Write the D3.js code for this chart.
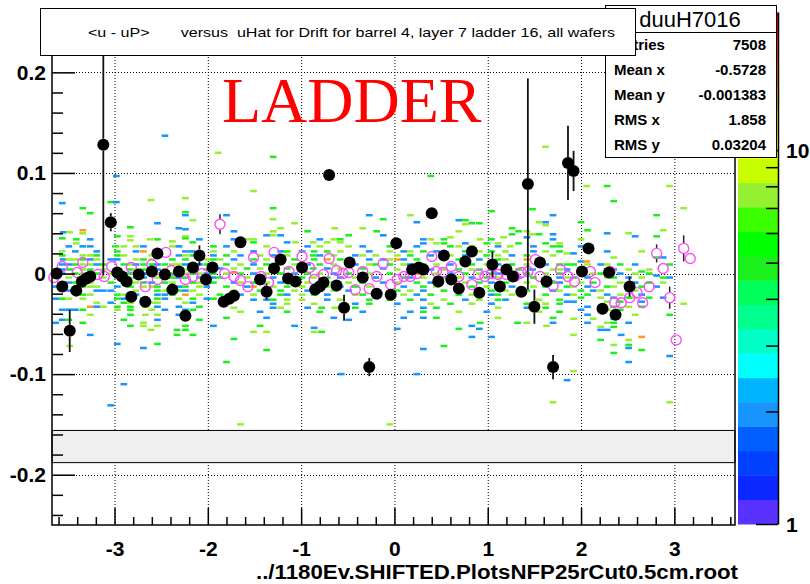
<!DOCTYPE html>
<html>
<head>
<meta charset="utf-8">
<script src="https://cdn.jsdelivr.net/npm/d3@7"></script>
<style>
  body { margin: 0; background: #fff; }
  svg { display: block; }
</style>
</head>
<body>
<script>
// ---- values ----
const xRange = [-3.67, 3.65];
const yRange = [-0.25, 0.26];
const zRange = [1, 23.4];

const xTicks = [-3, -2, -1, 0, 1, 2, 3];
const xTickLabels = ["-3", "-2", "-1", "0", "1", "2", "3"];
const yTicks = [-0.2, -0.1, 0, 0.1, 0.2];
const yTickLabels = ["-0.2", "-0.1", "0", "0.1", "0.2"];
const zTicks = [1, 2, 3, 4, 5, 6, 7, 8, 9, 10];
const zTickLabels = ["1", "", "", "", "", "", "", "", "", "10"];

const paletteColors = [
  "#5a32ff", "#0a28ff", "#0040ff", "#0060ff", "#1894ff", "#00b4ff", "#00ffff",
  "#00ffc8", "#00ff8c", "#00ff5a", "#1cf01c", "#00ff00", "#3cff00", "#96f032",
  "#c8ff00", "#ffff00", "#ffd200", "#ff9a1a", "#ff6400", "#ff3200", "#ff0000"
];

// profile of <u - uP> (black full markers)
const profX = [-3.62,-3.56,-3.48,-3.41,-3.35,-3.30,-3.26,-3.12,-3.04,-2.97,-2.92,-2.87,-2.82,-2.74,-2.67,-2.60,-2.54,-2.46,-2.38,-2.31,-2.24,-2.16,-2.09,-2.02,-1.95,-1.83,-1.77,-1.72,-1.65,-1.44,-1.37,-1.29,-1.22,-1.14,-1.06,-0.99,-0.85,-0.80,-0.76,-0.70,-0.62,-0.54,-0.48,-0.34,-0.27,-0.19,-0.04,0.02,0.19,0.26,0.31,0.40,0.47,0.53,0.61,0.69,0.76,0.83,0.91,1.05,1.13,1.20,1.27,1.36,1.43,1.50,1.56,1.63,1.70,1.86,1.92,2.01,2.08,2.23,2.30,2.37,2.52];
const profY = [0.000,-0.013,-0.057,-0.017,-0.008,-0.005,-0.003,0.128,0.051,0.001,-0.003,-0.008,-0.023,-0.001,-0.028,0.002,0.020,-0.001,-0.016,0.002,-0.042,0.006,0.018,-0.006,0.006,-0.028,-0.025,-0.022,0.031,-0.006,-0.018,0.005,0.014,-0.005,-0.008,0.006,-0.016,-0.013,-0.009,0.098,-0.012,-0.034,0.011,-0.004,-0.093,-0.020,-0.021,0.030,0.004,0.006,0.004,0.060,-0.008,0.018,-0.006,-0.015,0.012,0.022,-0.019,0.009,-0.013,0.004,-0.003,-0.018,0.089,-0.033,0.011,-0.008,-0.093,0.110,0.102,0.002,0.025,-0.035,0.001,-0.041,-0.013];
const profErr = [0.004,0.004,0.021,0.005,0.004,0.004,0.004,0.13,0.009,0.004,0.004,0.004,0.004,0.004,0.004,0.004,0.004,0.004,0.004,0.004,0.004,0.004,0.01,0.004,0.004,0.004,0.004,0.004,0.004,0.004,0.008,0.004,0.004,0.004,0.004,0.004,0.006,0.004,0.004,0.004,0.004,0.013,0.004,0.004,0.009,0.004,0.004,0.004,0.004,0.004,0.004,0.004,0.004,0.004,0.004,0.004,0.004,0.004,0.004,0.013,0.004,0.004,0.004,0.004,0.105,0.017,0.004,0.004,0.012,0.037,0.02,0.004,0.004,0.004,0.004,0.004,0.01];

// second profile (magenta open markers)
const magX = [-3.65,-3.56,-3.40,-3.34,-3.18,-3.11,-3.03,-2.82,-2.67,-2.60,-2.54,-2.45,-2.39,-2.24,-2.16,-2.06,-1.87,-1.82,-1.72,-1.65,-1.57,-1.51,-1.43,-1.35,-1.29,-1.13,-0.99,-0.91,-0.86,-0.76,-0.70,-0.62,-0.55,-0.49,-0.42,-0.34,-0.27,-0.19,-0.12,-0.04,0.03,0.10,0.17,0.24,0.40,0.45,0.52,0.61,0.69,0.83,0.90,0.97,1.04,1.11,1.20,1.29,1.36,1.43,1.51,1.56,1.70,1.78,1.86,1.93,2.10,2.15,2.31,2.36,2.43,2.52,2.60,2.66,2.73,2.81,2.88,2.95,3.02,3.10,3.17];
const magY = [-0.004,0.007,0.001,0.011,-0.001,-0.003,0.007,0.006,-0.013,0.009,-0.006,0.021,0.003,-0.006,-0.003,0.000,0.049,0.000,-0.003,-0.007,-0.013,0.016,-0.003,-0.009,0.021,0.002,0.017,0.006,-0.006,-0.001,0.015,0.003,0.000,0.001,-0.016,0.002,-0.015,-0.003,0.010,-0.011,-0.006,-0.003,-0.003,0.000,0.017,0.002,0.001,0.007,-0.003,-0.011,-0.001,-0.003,0.000,-0.001,-0.001,-0.003,0.001,0.002,0.014,-0.003,-0.012,0.004,-0.003,-0.008,0.002,-0.009,0.002,-0.029,-0.029,-0.024,-0.019,-0.029,-0.013,0.020,0.005,-0.024,-0.066,0.025,0.015];
const magErr = [0.003,0.003,0.003,0.003,0.003,0.003,0.003,0.003,0.003,0.003,0.003,0.003,0.003,0.003,0.003,0.003,0.010,0.003,0.003,0.003,0.003,0.003,0.003,0.003,0.003,0.003,0.003,0.003,0.003,0.003,0.003,0.003,0.003,0.003,0.003,0.003,0.003,0.003,0.003,0.003,0.003,0.003,0.003,0.003,0.003,0.003,0.003,0.003,0.003,0.003,0.003,0.003,0.003,0.003,0.003,0.003,0.003,0.003,0.003,0.003,0.003,0.003,0.003,0.003,0.003,0.003,0.003,0.003,0.003,0.003,0.003,0.003,0.003,0.009,0.003,0.011,0.003,0.013,0.003];

// 2D histogram cells: [uHat, u - uP, entries]
const cells2d = [
  [-2.46,0.137,2],[-1.89,0.120,8],[-2.98,0.097,2],[-2.24,0.075,8],[-2.61,0.073,8],[-3.04,0.071,5],[-2.98,0.071,2],[-3.56,0.070,2],[-3.34,0.065,5],[-2.24,0.061,5],[-2.24,0.058,2],[-3.26,0.060,5],[-2.16,0.053,8],[-2.54,0.050,2],[-2.83,0.046,5],[-2.31,0.045,2],[-2.24,0.044,2],[-3.34,0.043,13],
  [-3.55,0.041,2],[-3.48,0.041,8],[-3.34,0.040,8],[-2.97,0.037,5],[-2.83,0.037,8],[-2.24,0.037,8],[-2.24,0.035,5],[-3.56,0.035,5],[-3.41,0.034,5],[-3.41,0.030,8],[-3.26,0.034,2],[-2.62,0.034,8],[-2.54,0.034,5],[-2.09,0.034,2],[-2.83,0.033,8],[-2.38,0.032,8],[-2.16,0.031,5],
  [-3.49,0.027,2],[-3.34,0.027,2],[-3.26,0.027,2],[-2.99,0.027,5],[-2.90,0.027,8],[-2.77,0.027,8],[-2.69,0.027,2],[-2.38,0.027,8],[-2.31,0.027,2],[-1.94,0.027,5],
  [-3.56,0.022,8],[-3.42,0.022,2],[-3.19,0.022,2],[-2.97,0.022,5],[-2.77,0.022,2],[-2.69,0.022,13],[-2.24,0.022,2],[-2.17,0.022,2],[-1.94,0.022,8],
  [-3.56,0.018,5],[-3.34,0.018,8],[-3.26,0.018,8],[-3.19,0.018,5],[-2.97,0.018,5],[-2.90,0.018,8],[-2.60,0.018,8],[-2.31,0.018,2],[-2.24,0.018,8],[-2.16,0.018,5],[-1.94,0.018,2],
  [-3.55,0.014,2],[-3.49,0.014,8],[-3.42,0.014,8],[-3.34,0.014,5],[-3.26,0.014,2],[-3.19,0.014,8],[-3.04,0.014,2],[-2.97,0.014,2],[-2.77,0.014,8],[-2.69,0.014,5],[-2.60,0.014,8],[-2.38,0.014,5],[-2.24,0.014,5],[-2.09,0.014,8],[-2.01,0.014,8],[-1.94,0.014,5],
  [-3.56,0.009,2],[-3.49,0.009,2],[-3.42,0.009,5],[-3.34,0.009,8],[-3.26,0.009,8],[-3.19,0.009,2],[-3.12,0.009,5],[-2.90,0.009,5],[-2.83,0.009,8],[-2.77,0.009,2],[-2.69,0.009,5],[-2.60,0.009,5],[-2.54,0.009,2],[-2.46,0.009,5],[-2.38,0.009,8],[-2.31,0.009,8],[-2.24,0.009,2],[-2.16,0.009,8],[-2.09,0.009,2],[-2.01,0.009,5],[-1.94,0.009,5],
  [-3.63,0.004,8],[-3.56,0.004,2],[-3.48,0.004,5],[-3.34,0.004,8],[-3.26,0.004,5],[-3.12,0.004,8],[-2.97,0.004,5],[-2.83,0.004,5],[-2.77,0.004,8],[-2.69,0.004,5],[-2.54,0.004,2],[-2.46,0.004,8],[-2.31,0.004,5],[-2.24,0.004,8],[-2.16,0.004,2],[-2.01,0.004,5],
  [-3.56,0,2],[-3.42,0,5],[-3.34,0,8],[-3.26,0,2],[-3.19,0,5],[-3.04,0,8],[-2.90,0,2],[-2.83,0,5],[-2.77,0,8],[-2.69,0,2],[-2.60,0,5],[-2.54,0,8],[-2.46,0,2],[-2.38,0,5],[-2.24,0,8],[-2.16,0,5],[-2.09,0,8],[-2.01,0,2],[-1.94,0,5],
  [-3.63,-0.004,5],[-3.49,-0.004,8],[-3.34,-0.004,2],[-3.26,-0.004,5],[-3.12,-0.004,8],[-2.97,-0.004,5],[-2.77,-0.004,5],[-2.69,-0.004,2],[-2.54,-0.004,8],[-2.38,-0.004,5],[-2.31,-0.004,2],[-2.24,-0.004,5],[-2.09,-0.004,2],[-2.01,-0.004,8],[-1.94,-0.004,2],
  [-3.56,-0.009,8],[-3.49,-0.009,2],[-3.42,-0.009,5],[-3.26,-0.009,8],[-3.04,-0.009,5],[-2.90,-0.009,2],[-2.77,-0.009,8],[-2.69,-0.009,5],[-2.60,-0.009,2],[-2.46,-0.009,5],[-2.38,-0.009,8],[-2.16,-0.009,5],[-2.09,-0.009,8],[-1.94,-0.009,5],
  [-3.63,-0.013,2],[-3.34,-0.013,5],[-3.26,-0.013,8],[-3.19,-0.013,8],[-2.97,-0.013,2],[-2.83,-0.013,5],[-2.69,-0.013,8],[-2.60,-0.013,8],[-2.54,-0.013,5],[-2.31,-0.013,2],[-2.24,-0.013,5],[-2.09,-0.013,8],[-2.01,-0.013,2],
  [-3.56,-0.017,8],[-3.48,-0.017,2],[-3.41,-0.017,5],[-3.19,-0.017,2],[-3.12,-0.017,2],[-3.04,-0.017,2],[-2.77,-0.017,8],[-2.54,-0.017,5],[-2.46,-0.017,8],[-2.31,-0.017,5],[-2.24,-0.017,2],[-2.16,-0.017,8],
  [-3.34,-0.021,5],[-3.26,-0.021,8],[-2.97,-0.021,5],[-2.90,-0.021,8],[-2.77,-0.021,2],[-2.54,-0.021,2],[-2.46,-0.021,2],[-2.38,-0.021,5],[-2.24,-0.021,13],[-2.09,-0.021,8],
  [-3.63,-0.025,2],[-3.56,-0.025,5],[-3.49,-0.025,8],[-3.34,-0.025,8],[-2.97,-0.025,5],[-2.90,-0.025,2],[-2.69,-0.025,5],[-2.54,-0.025,5],[-2.46,-0.025,2],[-2.31,-0.025,8],[-2.16,-0.025,5],[-2.01,-0.025,2],[-1.94,-0.025,5],
  [-3.19,-0.029,8],[-3.04,-0.029,2],[-2.90,-0.029,5],[-2.83,-0.029,8],[-2.60,-0.029,8],[-2.54,-0.029,8],[-2.24,-0.029,8],[-2.16,-0.029,2],
  [-3.26,-0.033,13],[-3.19,-0.033,2],[-3.12,-0.033,8],[-2.97,-0.033,5],[-2.83,-0.033,5],[-2.67,-0.033,8],[-2.54,-0.033,2],[-2.31,-0.033,2],[-2.09,-0.033,5],
  [-3.56,-0.036,2],[-3.49,-0.036,2],[-3.42,-0.036,2],[-3.34,-0.036,5],[-2.97,-0.036,8],[-2.83,-0.036,5],[-2.60,-0.036,8],[-2.46,-0.036,2],[-2.24,-0.036,2],[-2.16,-0.036,5],
  [-3.26,-0.041,8],[-2.83,-0.041,5],[-2.67,-0.041,8],[-2.54,-0.041,8],[-2.31,-0.041,2],[-2.24,-0.041,2],
  [-3.56,-0.046,2],[-3.49,-0.046,5],[-2.90,-0.046,5],[-2.54,-0.046,2],[-2.24,-0.046,2],[-2.09,-0.046,5],
  [-3.63,-0.049,2],[-3.34,-0.049,5],[-2.69,-0.049,8],[-2.83,-0.052,5],[-2.69,-0.052,8],[-2.54,-0.052,8],[-2.24,-0.052,5],[-1.94,-0.052,2],
  [-2.61,-0.056,8],[-2.33,-0.056,5],[-2.24,-0.056,5],[-3.26,-0.061,2],[-2.33,-0.061,5],[-2.16,-0.061,5],
  [-2.97,-0.070,2],[-2.54,-0.070,5],[-3.48,-0.072,8],[-2.69,-0.074,2],[-2.90,-0.110,2],[-3.04,-0.131,2],

  [-1.30,0.116,5],[-1.51,0.082,8],[-1.30,0.065,5],[-1.80,0.058,2],[-0.27,0.058,2],[-1.30,0.054,8],[-0.12,0.054,5],[-1.07,0.050,8],[-1.22,0.045,8],[-0.64,0.045,8],[-0.34,0.045,8],[-1.72,0.042,2],[-1.30,0.042,8],[-0.19,0.042,5],[-0.93,0.042,5],[-1.22,0.038,2],[-1.37,0.038,2],[-1.30,0.038,8],[-0.49,0.038,5],[-0.12,0.038,2],
  [-1.51,0.034,8],[-0.80,0.034,2],[-0.58,0.034,5],[-0.65,0.034,8],[-1.58,0.034,8],[-1.72,0.034,2],
  [-1.15,0.031,2],[-1.06,0.031,8],[-0.87,0.031,8],[-0.72,0.031,8],[-0.58,0.031,8],[-1.51,0.031,5],
  [-1.80,0.027,2],[-1.65,0.027,5],[-1.37,0.027,8],[-0.93,0.027,2],[-0.80,0.027,8],[-0.49,0.027,8],[-0.34,0.027,2],[-0.05,0.027,5],
  [-1.72,0.022,8],[-1.51,0.022,2],[-1.22,0.022,2],[-1.15,0.022,5],[-0.99,0.022,2],[-0.86,0.022,5],[-0.72,0.022,5],[-0.58,0.022,8],[-0.27,0.022,2],[-0.05,0.022,8],
  [-1.80,0.018,5],[-1.65,0.018,2],[-1.44,0.018,8],[-1.30,0.018,2],[-1.15,0.018,8],[-0.87,0.018,5],[-0.80,0.018,2],[-0.65,0.018,8],[-0.42,0.018,2],[-0.34,0.018,8],[-0.20,0.018,8],
  [-1.87,0.014,8],[-1.72,0.014,2],[-1.51,0.014,5],[-1.37,0.014,8],[-1.07,0.014,5],[-0.86,0.014,5],[-0.72,0.014,13],[-0.58,0.014,5],[-0.27,0.014,2],[-0.12,0.014,2],[-0.05,0.014,8],
  [-1.80,0.009,5],[-1.65,0.009,8],[-1.51,0.009,2],[-1.37,0.009,5],[-1.22,0.009,8],[-1.07,0.009,8],[-0.93,0.009,2],[-0.80,0.009,5],[-0.65,0.009,8],[-0.49,0.009,5],[-0.42,0.009,2],[-0.27,0.009,8],[-0.20,0.009,5],[-0.05,0.009,5],
  [-1.87,0.005,2],[-1.72,0.005,8],[-1.58,0.005,5],[-1.44,0.005,8],[-1.30,0.005,2],[-1.15,0.005,5],[-0.99,0.005,8],[-0.87,0.005,5],[-0.72,0.005,2],[-0.58,0.005,8],[-0.34,0.005,5],[-0.12,0.005,2],
  [-1.72,0.001,13],[-1.80,0,8],[-1.65,0,5],[-1.51,0,2],[-1.37,0,8],[-1.22,0,5],[-1.07,0,2],[-0.93,0,5],[-0.80,0,8],[-0.65,0,2],[-0.49,0,5],[-0.27,0,8],[-0.05,0,5],
  [-1.87,-0.004,5],[-1.58,-0.004,8],[-1.44,-0.004,5],[-1.30,-0.004,2],[-1.15,-0.004,8],[-0.99,-0.004,5],[-0.87,-0.004,8],[-0.72,-0.004,5],[-0.58,-0.004,2],[-0.42,-0.004,8],[-0.20,-0.004,2],
  [-1.72,-0.009,2],[-1.65,-0.009,8],[-1.51,-0.009,5],[-1.37,-0.009,8],[-1.22,-0.009,2],[-1.07,-0.009,5],[-0.93,-0.009,8],[-0.80,-0.009,2],[-0.65,-0.009,5],[-0.49,-0.009,8],[-0.34,-0.009,5],[-0.12,-0.009,2],
  [-1.80,-0.013,5],[-1.58,-0.013,2],[-1.51,-0.013,13],[-1.30,-0.013,8],[-1.15,-0.013,5],[-0.99,-0.013,8],[-0.86,-0.013,5],[-0.72,-0.013,8],[-0.58,-0.013,2],[-0.42,-0.013,5],[-0.27,-0.013,8],
  [-1.72,-0.017,8],[-1.44,-0.017,5],[-1.37,-0.017,2],[-1.22,-0.017,5],[-1.07,-0.017,8],[-0.93,-0.017,2],[-0.80,-0.017,5],[-0.65,-0.017,8],[-0.49,-0.017,2],[-0.20,-0.017,5],
  [-1.87,-0.021,5],[-1.65,-0.021,2],[-1.51,-0.021,8],[-1.22,-0.021,5],[-1.15,-0.021,2],[-0.99,-0.021,8],[-0.86,-0.021,5],[-0.72,-0.021,2],[-0.42,-0.021,8],[-0.34,-0.021,5],
  [-1.51,-0.026,2],[-1.37,-0.026,2],[-1.30,-0.026,5],[-1.15,-0.026,8],[-0.99,-0.026,8],[-0.72,-0.026,2],[-0.58,-0.026,8],[-0.27,-0.026,5],[-0.05,-0.026,5],
  [-1.30,-0.030,2],[-1.15,-0.030,8],[-0.86,-0.030,8],[-0.42,-0.030,2],[-0.27,-0.030,5],
  [-1.72,-0.034,8],[-1.30,-0.034,2],[-1.22,-0.034,8],[-0.93,-0.034,2],[-0.78,-0.034,5],[-0.64,-0.034,8],[-0.42,-0.034,5],
  [-1.65,-0.038,8],[-1.44,-0.038,2],[-1.15,-0.038,5],[-0.80,-0.038,5],[-0.34,-0.038,2],
  [-1.37,-0.044,2],[-1.80,-0.044,5],[-0.65,-0.044,2],[-0.49,-0.046,2],[-1.07,-0.052,2],[-1.44,-0.052,5],[-0.86,-0.054,2],[-1.51,-0.058,8],[-1.37,-0.058,8],[-0.78,-0.058,5],[-0.86,-0.058,8],[-1.72,-0.065,5],[-1.37,-0.076,5],[-1.80,-0.088,5],[-0.57,-0.100,2],[-1.65,-0.150,8],[-0.05,-0.150,8],

  [1.62,0.126,8],[0.39,0.097,5],[1.48,0.064,5],[1.04,0.062,5],[0.17,0.058,8],[1.70,0.058,2],[0.69,0.053,2],[0.76,0.053,5],[0.24,0.051,2],[0.83,0.050,5],[1.62,0.051,2],[0.91,0.050,5],[1.55,0.051,8],[0.76,0.049,8],[1.62,0.048,8],[1.26,0.045,5],[0.69,0.042,8],[1.33,0.042,5],[1.42,0.042,8],[1.26,0.039,5],[1.70,0.039,2],[1.55,0.039,5],[1.48,0.039,8],[0.60,0.036,8],[1.42,0.036,2],[1.17,0.036,8],
  [0.31,0.034,2],[0.39,0.034,8],[0.53,0.034,5],[0.92,0.034,8],[1.04,0.034,5],[1.70,0.034,2],
  [0.31,0.030,2],[0.45,0.030,8],[0.53,0.030,5],[0.76,0.030,2],[0.99,0.030,5],[1.11,0.030,8],[1.33,0.030,5],[1.62,0.030,5],[1.77,0.030,8],
  [0.24,0.027,2],[0.60,0.027,5],[0.69,0.027,8],[0.83,0.027,8],[1.11,0.027,2],[1.24,0.027,8],[1.49,0.027,2],[1.70,0.027,5],
  [0.10,0.022,2],[0.17,0.022,8],[0.31,0.022,5],[0.45,0.022,2],[0.76,0.022,5],[0.91,0.022,8],[1.04,0.022,5],[1.19,0.022,8],[1.49,0.022,2],[1.62,0.022,8],
  [0.03,0.018,8],[0.17,0.018,5],[0.39,0.018,2],[0.60,0.018,8],[0.76,0.018,2],[0.99,0.018,5],[1.11,0.018,8],[1.26,0.018,2],[1.42,0.018,5],[1.70,0.018,8],
  [0.03,0.014,13],[0.10,0.014,2],[0.24,0.014,5],[0.53,0.014,8],[0.69,0.014,5],[0.91,0.014,2],[1.11,0.014,5],[1.19,0.014,8],[1.42,0.014,13],[1.55,0.014,5],
  [0.10,0.009,8],[0.17,0.009,2],[0.31,0.009,5],[0.45,0.009,8],[0.60,0.009,2],[0.83,0.009,5],[0.99,0.009,8],[1.11,0.009,2],[1.26,0.009,5],[1.42,0.009,8],[1.62,0.009,2],[1.77,0.009,5],
  [0.03,0.004,8],[0.17,0.004,5],[0.39,0.004,2],[0.53,0.004,8],[0.69,0.004,5],[0.83,0.004,8],[0.91,0.004,5],[1.04,0.004,2],[1.19,0.004,8],[1.33,0.004,5],[1.48,0.004,2],[1.70,0.004,8],
  [0.24,0,13],[0.31,0,5],[0.45,0,8],[0.60,0,2],[0.76,0,5],[0.91,0,8],[1.04,0,5],[1.11,0,2],[1.26,0,8],[1.42,0,5],[1.62,0,8],
  [0.10,-0.004,5],[0.17,-0.004,2],[0.31,-0.004,8],[0.53,-0.004,5],[0.69,-0.004,8],[0.83,-0.004,2],[0.99,-0.004,5],[1.11,-0.004,8],[1.33,-0.004,2],[1.49,-0.004,5],[1.77,-0.004,2],
  [0.03,-0.009,8],[0.24,-0.009,5],[0.39,-0.009,2],[0.60,-0.009,5],[0.76,-0.009,8],[0.91,-0.009,5],[1.04,-0.009,2],[1.19,-0.009,5],[1.42,-0.009,8],[1.70,-0.009,5],
  [0.10,-0.013,2],[0.31,-0.013,5],[0.45,-0.013,8],[0.69,-0.013,2],[0.83,-0.013,5],[0.99,-0.013,8],[1.11,-0.013,5],[1.26,-0.013,2],[1.49,-0.013,8],[1.62,-0.013,5],
  [0.03,-0.017,5],[0.17,-0.017,8],[0.31,-0.017,2],[0.53,-0.017,5],[0.69,-0.017,8],[0.91,-0.017,2],[1.04,-0.017,5],[1.19,-0.017,8],[1.42,-0.017,5],[1.70,-0.017,2],
  [0.10,-0.021,8],[0.24,-0.021,2],[0.39,-0.021,5],[0.69,-0.021,5],[0.83,-0.021,8],[1.04,-0.021,2],[1.11,-0.021,5],[1.26,-0.021,8],[1.62,-0.021,5],
  [0.17,-0.026,5],[0.31,-0.026,2],[0.53,-0.026,8],[0.76,-0.026,2],[0.91,-0.026,8],[1.11,-0.026,5],[1.19,-0.026,2],[1.55,-0.026,8],[1.77,-0.026,5],
  [0.03,-0.030,2],[0.39,-0.030,8],[0.60,-0.030,5],[0.83,-0.030,8],[1.04,-0.030,2],[1.42,-0.030,5],[1.62,-0.030,8],
  [0.31,-0.034,2],[0.45,-0.034,5],[1.11,-0.034,8],[1.62,-0.034,5],[1.42,-0.034,2],
  [0.17,-0.038,2],[0.31,-0.038,5],[0.69,-0.038,8],[0.99,-0.038,2],[1.77,-0.038,5],[1.55,-0.038,8],
  [0.31,-0.044,2],[0.45,-0.044,5],[0.10,-0.044,2],[1.11,-0.044,8],[1.70,-0.044,5],
  [1.32,-0.049,5],[1.42,-0.049,8],[0.92,-0.049,5],[1.70,-0.049,2],[1.63,-0.052,8],[0.83,-0.052,2],[0.69,-0.055,5],[0.91,-0.055,2],[0.03,-0.055,2],[0.83,-0.063,2],[1.04,-0.063,2],[0.53,-0.072,5],[0.31,-0.075,2],[0.24,-0.100,2],[1.70,-0.128,8],

  [2.06,0.087,8],[2.28,0.087,5],[2.95,0.087,8],[2.35,0.072,5],[3.10,0.065,8],[2.81,0.058,5],[2.00,0.051,5],[2.07,0.043,5],[2.88,0.043,8],[2.28,0.040,2],[2.51,0.040,8],[2.58,0.037,2],[2.81,0.037,5],[2.00,0.034,8],
  [1.77,0.027,5],[2.00,0.027,2],[2.28,0.022,2],[2.07,0.022,5],[2.65,0.022,8],[1.77,0.022,5],[1.85,0.020,8],[1.92,0.020,2],[2.35,0.016,8],[2.81,0.016,5],[2.88,0.016,2],[2.00,0.012,2],[2.06,0.012,13],
  [1.85,0.009,5],[1.92,0.009,5],[2.07,0.009,8],[2.21,0.009,2],[2.42,0.009,5],[2.58,0.009,2],[2.28,0.009,8],[2.95,0.009,5],
  [1.77,0.004,8],[1.85,0.004,2],[2.00,0.004,8],[2.28,0.004,5],[2.35,0.004,2],[2.51,0.004,8],[2.73,0.004,8],[2.65,0.002,5],[2.81,-0.002,2],
  [1.77,0,5],[2.00,0,2],[2.13,0,8],[2.21,0,5],[2.42,0,2],[2.58,0,8],[2.73,0,5],
  [1.85,-0.004,8],[1.92,-0.004,5],[2.07,-0.004,2],[2.28,-0.004,8],[2.35,-0.004,5],[2.51,-0.004,2],[2.65,-0.004,8],[2.88,-0.004,5],[2.95,-0.004,2],
  [1.77,-0.009,2],[2.00,-0.009,8],[2.13,-0.009,5],[2.42,-0.009,8],[2.58,-0.009,2],[2.73,-0.009,5],[2.88,-0.009,8],
  [1.85,-0.013,5],[1.92,-0.013,8],[2.07,-0.013,2],[2.28,-0.013,5],[2.35,-0.013,8],[2.65,-0.013,5],[2.81,-0.013,2],
  [1.77,-0.017,8],[2.00,-0.017,5],[2.13,-0.017,2],[2.21,-0.017,8],[2.51,-0.017,5],[2.58,-0.017,8],
  [1.85,-0.021,2],[1.92,-0.021,8],[2.07,-0.021,5],[2.28,-0.021,2],[2.42,-0.021,8],[2.65,-0.021,2],
  [2.00,-0.024,5],[2.21,-0.024,8],[2.35,-0.024,2],[2.51,-0.024,5],[2.58,-0.024,8],[2.73,-0.024,5],[2.88,-0.024,2],
  [1.85,-0.028,2],[1.92,-0.028,2],[2.28,-0.028,8],[2.42,-0.028,5],[2.65,-0.028,2],[1.77,-0.030,5],[3.10,-0.030,8],
  [2.07,-0.033,2],[2.21,-0.033,2],[2.35,-0.033,5],[2.51,-0.033,8],[2.65,-0.033,5],[2.28,-0.036,8],[2.42,-0.036,5],[2.00,-0.036,2],
  [2.07,-0.041,2],[2.35,-0.041,5],[2.58,-0.041,8],[2.95,-0.041,5],[1.92,-0.045,8],[2.35,-0.045,2],[2.13,-0.045,8],
  [2.07,-0.049,2],[2.28,-0.049,8],[2.35,-0.049,5],[2.51,-0.049,2],[2.35,-0.053,5],[2.21,-0.053,8],[2.21,-0.056,2],[2.28,-0.056,2],
  [2.43,-0.061,2],[1.92,-0.061,8],[2.65,-0.063,13],[2.21,-0.066,5],[2.51,-0.066,8],[2.35,-0.071,8],[2.51,-0.071,5],[2.51,-0.074,2],[2.65,-0.076,5],[2.35,-0.079,5],[2.95,-0.082,2],[2.51,-0.088,2],[1.92,-0.097,8],[1.85,-0.106,2],[2.95,-0.128,8]
];
const cellW = 0.072;
const cellH = 0.0025;

// shaded band across the frame
const bandRange = [-0.188, -0.156];

const titleText = "<u - uP>       versus  uHat for Drift for barrel 4, layer 7 ladder 16, all wafers";
const statsTitle = "duuH7016";
const statsLabels = ["Entries", "Mean x", "Mean y", "RMS x", "RMS y"];
const statsValues = ["7508", "-0.5728", "-0.001383", "1.858", "0.03204"];
const fileLabel = "../1180Ev.SHIFTED.PlotsNFP25rCut0.5cm.root";
const bigLabel = "LADDER";

// ---- layout ----
const width = 810;
const height = 584;
const frame = { left: 52, right: 735, top: 12, bottom: 525 };
const pal = { left: 738, right: 778, top: 12, bottom: 524 };
const sans = "'Liberation Sans', Arial, Helvetica, sans-serif";
const markerR = 6;
const openR = 5;

const svg = d3.select("body").append("svg")
  .attr("width", width)
  .attr("height", height)
  .attr("font-family", sans);

svg.append("rect").attr("width", width).attr("height", height).attr("fill", "white");

const x = d3.scaleLinear().domain(xRange).range([frame.left, frame.right]);
const y = d3.scaleLinear().domain(yRange).range([frame.bottom, frame.top]);
const z = d3.scaleLog().domain(zRange).range([pal.bottom, pal.top]);

function cellColor(n) {
  const t = Math.log(n) / Math.log(zRange[1]);
  const i = Math.min(paletteColors.length - 1, Math.floor(t * paletteColors.length));
  return paletteColors[i];
}

// error bar pieces that stick out of the marker (upper and lower)
function errorSegments(pts, r) {
  const segs = [];
  pts.forEach(d => {
    const cy = y(d.y);
    const top = y(d.y + d.e);
    const bot = y(d.y - d.e);
    if (cy - top > r) segs.push({ x: d.x, y1: top, y2: cy - r });
    if (bot - cy > r) segs.push({ x: d.x, y1: cy + r, y2: bot });
  });
  return segs;
}

// dotted grid
const grid = svg.append("g")
  .attr("stroke", "#000")
  .attr("stroke-width", 1)
  .attr("stroke-dasharray", "1,2");
grid.selectAll("line.v").data(xTicks).join("line")
  .attr("class", "v")
  .attr("x1", d => x(d) + 0.5).attr("x2", d => x(d) + 0.5)
  .attr("y1", frame.top).attr("y2", frame.bottom);
grid.selectAll("line.h").data(yTicks).join("line")
  .attr("class", "h")
  .attr("x1", frame.left).attr("x2", frame.right)
  .attr("y1", d => Math.round(y(d)) + 0.5).attr("y2", d => Math.round(y(d)) + 0.5);

// 2D histogram cells
svg.append("g").selectAll("rect").data(cells2d).join("rect")
  .attr("x", d => x(d[0] - cellW / 2))
  .attr("y", d => y(d[1] + cellH / 2))
  .attr("width", x(cellW) - x(0))
  .attr("height", y(0) - y(cellH))
  .attr("fill", d => cellColor(d[2]));

// shaded band
svg.append("rect")
  .attr("x", frame.left)
  .attr("y", y(bandRange[1]))
  .attr("width", frame.right - frame.left)
  .attr("height", y(bandRange[0]) - y(bandRange[1]))
  .attr("fill", "#efefef")
  .attr("stroke", "#000")
  .attr("stroke-width", 1);

// magenta profile
const mag = magX.map((v, i) => ({ x: v, y: magY[i], e: magErr[i] }));
svg.append("g").selectAll("line").data(errorSegments(mag, openR)).join("line")
  .attr("x1", d => x(d.x)).attr("x2", d => x(d.x))
  .attr("y1", d => d.y1).attr("y2", d => d.y2)
  .attr("stroke", "#222").attr("stroke-width", 1.5);
svg.append("g").selectAll("circle").data(mag).join("circle")
  .attr("cx", d => x(d.x)).attr("cy", d => y(d.y))
  .attr("r", openR)
  .attr("fill", "none")
  .attr("stroke", "#ff4cff")
  .attr("stroke-width", 1.4);

// black profile
const prof = profX.map((v, i) => ({ x: v, y: profY[i], e: profErr[i] }));
svg.append("g").selectAll("line").data(errorSegments(prof, markerR)).join("line")
  .attr("x1", d => x(d.x)).attr("x2", d => x(d.x))
  .attr("y1", d => d.y1).attr("y2", d => d.y2)
  .attr("stroke", "#111").attr("stroke-width", 1.8);
svg.append("g").selectAll("circle").data(prof).join("circle")
  .attr("cx", d => x(d.x)).attr("cy", d => y(d.y))
  .attr("r", markerR)
  .attr("fill", "#000");

// axes (ticks drawn inwards)
const xMinor = d3.range(-3.6, 3.61, 0.2).filter(v => Math.abs(v - Math.round(v)) > 0.01);
const yMinor = d3.range(-0.24, 0.261, 0.02).filter(v => Math.abs(v * 10 - Math.round(v * 10)) > 0.01);

function styleAxis(g) {
  g.select(".domain").remove();
  g.attr("font-family", sans).attr("font-size", 21).attr("font-weight", "bold");
  g.selectAll("line").attr("stroke-width", 1.5);
  g.selectAll("text").attr("fill", "#000");
}

svg.append("g")
  .attr("transform", `translate(0,${frame.bottom})`)
  .call(d3.axisBottom(x).tickValues(xMinor).tickSize(-8).tickFormat(""))
  .call(styleAxis);
svg.append("g")
  .attr("transform", `translate(0,${frame.bottom})`)
  .call(d3.axisBottom(x).tickValues(xTicks).tickSize(-17).tickPadding(16)
    .tickFormat((d, i) => xTickLabels[i]))
  .call(styleAxis);
svg.append("g")
  .attr("transform", `translate(${frame.left},0)`)
  .call(d3.axisLeft(y).tickValues(yMinor).tickSize(-11).tickFormat(""))
  .call(styleAxis);
svg.append("g")
  .attr("transform", `translate(${frame.left},0)`)
  .call(d3.axisLeft(y).tickValues(yTicks).tickSize(-23).tickPadding(6)
    .tickFormat((d, i) => yTickLabels[i]))
  .call(styleAxis);

svg.append("rect")
  .attr("x", frame.left).attr("y", frame.top)
  .attr("width", frame.right - frame.left)
  .attr("height", frame.bottom - frame.top)
  .attr("fill", "none")
  .attr("stroke", "#000")
  .attr("stroke-width", 1.5);

// colour palette
const bands = paletteColors.map((c, i) => ({
  c: c,
  lo: Math.pow(zRange[1], i / paletteColors.length),
  hi: Math.pow(zRange[1], (i + 1) / paletteColors.length)
}));
svg.append("g").selectAll("rect").data(bands).join("rect")
  .attr("x", pal.left)
  .attr("y", d => z(d.hi))
  .attr("width", pal.right - pal.left)
  .attr("height", d => z(d.lo) - z(d.hi) + 0.5)
  .attr("fill", d => d.c);

svg.append("g")
  .attr("transform", `translate(${pal.right},0)`)
  .call(d3.axisRight(z).tickValues(zTicks)
    .tickSize(0).tickPadding(8)
    .tickFormat((d, i) => zTickLabels[i]))
  .call(g => {
    g.select(".domain").attr("stroke-width", 1.5);
    g.attr("font-family", sans).attr("font-size", 21).attr("font-weight", "bold");
    g.selectAll("text").attr("fill", "#000").attr("dy", "0.36em");
    g.selectAll(".tick").append("line")
      .attr("x1", 0)
      .attr("x2", (d, i) => (zTickLabels[i] ? -22 : -12))
      .attr("stroke", "#000").attr("stroke-width", 1.5);
  });

// statistics box
const stats = svg.append("g");
stats.append("rect")
  .attr("x", 605.5).attr("y", 5.5).attr("width", 171).attr("height", 152)
  .attr("fill", "white").attr("stroke", "#000");
stats.append("line")
  .attr("x1", 605.5).attr("x2", 776.5).attr("y1", 32.5).attr("y2", 32.5)
  .attr("stroke", "#000");
stats.append("text")
  .attr("x", 690).attr("y", 27)
  .attr("text-anchor", "middle")
  .attr("font-size", 22)
  .text(statsTitle);
stats.selectAll("text.lab").data(statsLabels).join("text")
  .attr("class", "lab")
  .attr("x", 614).attr("y", (d, i) => 50 + i * 25)
  .attr("font-size", 15).attr("font-weight", "bold")
  .text(d => d);
stats.selectAll("text.val").data(statsValues).join("text")
  .attr("class", "val")
  .attr("x", 766).attr("y", (d, i) => 50 + i * 25)
  .attr("text-anchor", "end")
  .attr("font-size", 15).attr("font-weight", "bold")
  .text(d => d);

// title box (overlaps the left edge of the statistics box)
svg.append("rect")
  .attr("x", 40.5).attr("y", 8.5).attr("width", 595).attr("height", 47)
  .attr("fill", "white").attr("stroke", "#000");
svg.append("text")
  .attr("x", 88).attr("y", 37)
  .attr("font-size", 13.5)
  .style("white-space", "pre")
  .attr("textLength", 527)
  .attr("lengthAdjust", "spacingAndGlyphs")
  .text(titleText);

// big red label
svg.append("text")
  .attr("x", 222).attr("y", 122)
  .attr("font-family", "'Liberation Serif', 'Times New Roman', serif")
  .attr("font-size", 64)
  .attr("fill", "#ff0000")
  .text(bigLabel);

// file name under the x axis
svg.append("text")
  .attr("x", 256).attr("y", 579)
  .attr("font-size", 20).attr("font-weight", "bold")
  .attr("textLength", 482)
  .attr("lengthAdjust", "spacingAndGlyphs")
  .text(fileLabel);
</script>
</body>
</html>
